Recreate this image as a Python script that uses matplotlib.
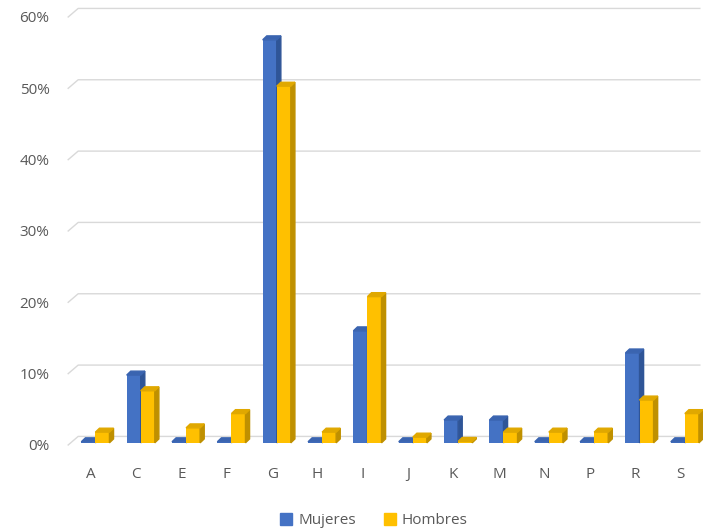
import matplotlib.pyplot as plt
from matplotlib.patches import Polygon, Patch
from matplotlib.ticker import PercentFormatter

plt.rcParams['font.family'] = ['Open Sans', 'DejaVu Sans']

categorias = ["A", "C", "E", "F", "G", "H", "I", "J", "K", "M", "N", "P", "R", "S"]
mujeres = [0.0, 9.5, 0.0, 0.0, 56.5, 0.0, 15.7, 0.0, 3.2, 3.2, 0.0, 0.0, 12.6, 0.0]
hombres = [1.5, 7.3, 2.1, 4.1, 50.0, 1.5, 20.5, 0.8, 0.2, 1.5, 1.5, 1.5, 6.0, 4.1]

colores = {"Mujeres": ("#4472C4", "#2F5597", "#3A64B0"),
           "Hombres": ("#FFC000", "#BF9000", "#E0A800")}

fig = plt.figure(figsize=(7.03, 5.31), dpi=100)
ax = fig.add_axes([0.097, 0.162, 0.903, 0.806])

ancho = 0.31
dx = 0.09   # profundidad de la barra (categorías)
dy = 0.55   # profundidad de la barra (%)


def barra3d(x, h, cara, lado, tope):
    base = max(h, 0.15)
    ax.bar(x, base, width=ancho, bottom=0.3, color=cara, align="edge", zorder=3)
    b0, b1 = 0.3, base + 0.3
    # lado derecho
    ax.add_patch(Polygon([(x + ancho, b0), (x + ancho + dx, b0 + dy),
                          (x + ancho + dx, b1 + dy), (x + ancho, b1)],
                         closed=True, color=lado, zorder=3))
    # tapa
    ax.add_patch(Polygon([(x, b1), (x + dx, b1 + dy),
                          (x + ancho + dx, b1 + dy), (x + ancho, b1)],
                         closed=True, color=tope, zorder=3))


for i in range(len(categorias)):
    x0 = i - 0.21
    barra3d(x0, mujeres[i], *colores["Mujeres"])
    barra3d(x0 + ancho, hombres[i], *colores["Hombres"])

xmin, xmax = -0.5, len(categorias) - 0.5
ax.set_xlim(xmin, xmax)
ax.set_ylim(0, 60)

# lineas de division en la pared del fondo
gdx, gdy = 0.22, 1.2
for v in range(0, 61, 10):
    ax.plot([xmin, xmin + gdx, xmax - 0.07], [v, v + gdy, v + gdy],
            color="#D9D9D9", linewidth=1, zorder=0, clip_on=False)

ax.set_yticks(range(0, 61, 10))
ax.yaxis.set_major_formatter(PercentFormatter(decimals=0))
ax.set_xticks(range(len(categorias)))
ax.set_xticklabels(categorias)
ax.tick_params(axis="both", length=0, labelsize=11, colors="#595959")
ax.tick_params(axis="y", pad=13.5)
ax.tick_params(axis="x", pad=16)
for s in ax.spines.values():
    s.set_visible(False)

fig.legend(handles=[Patch(color=colores["Mujeres"][0], label="Mujeres"),
                    Patch(color=colores["Hombres"][0], label="Hombres")],
           loc="center", bbox_to_anchor=(0.532, 0.019), ncol=2, frameon=False,
           fontsize=11, handlelength=0.8, handleheight=0.8, handletextpad=0.4,
           columnspacing=1.8, labelcolor="#595959")

fig.savefig("out.png", dpi=100)
